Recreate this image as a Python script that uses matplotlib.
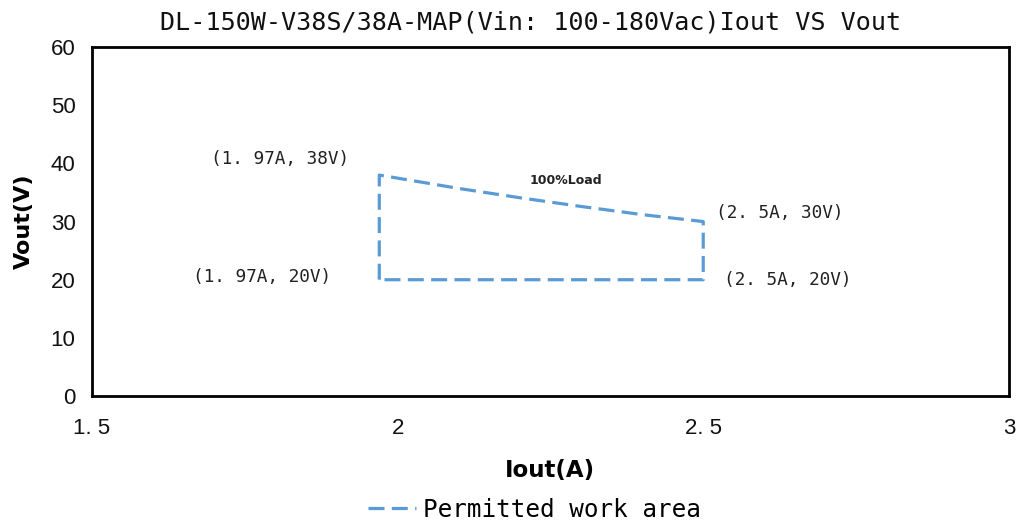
import matplotlib
matplotlib.use("Agg")
import matplotlib.pyplot as plt

plt.rcParams['font.family'] = ['Liberation Sans', 'DejaVu Sans']

# Boundary of permitted work area (Iout in A, Vout in V)
iout = [1.97, 1.97, 2.10, 2.20, 2.30, 2.40, 2.50, 2.50, 1.97]
vout = [20.0, 38.0, 35.7, 34.1, 32.6, 31.2, 30.0, 20.0, 20.0]

x_ticks = [1.5, 2, 2.5, 3]
x_tick_labels = ["1. 5", "2", "2. 5", "3"]
y_ticks = [0, 10, 20, 30, 40, 50, 60]

point_labels = ["(1. 97A, 38V)", "(1. 97A, 20V)", "(2. 5A, 30V)", "(2. 5A, 20V)"]
point_xy = [(1.97, 38), (1.97, 20), (2.5, 30), (2.5, 20)]

MONO = ["DejaVu Sans Mono"]

fig = plt.figure(figsize=(10.18, 5.24), dpi=100)
ax = fig.add_axes([0.0904, 0.2443, 0.9006, 0.6657])

line, = ax.plot(iout, vout, linestyle=(0, (5, 2.3)), color="#5B9BD5", linewidth=2.3,
                label="Permitted work area")

ax.set_xlim(1.5, 3)
ax.set_ylim(0, 60)
ax.set_xticks(x_ticks)
ax.set_xticklabels(x_tick_labels)
ax.set_yticks(y_ticks)
ax.tick_params(axis="y", length=0, labelsize=16, pad=12, labelcolor="#111111")
ax.tick_params(axis="x", length=0, labelsize=16, pad=16, labelcolor="#111111")
for s in ax.spines.values():
    s.set_linewidth(2)
    s.set_color("black")

# point annotations
offsets = [(-0.163, 2.7), (-0.191, 0.45), (0.125, 1.4), (0.138, -0.1)]
for (px, py), txt, (dx, dy) in zip(point_xy, point_labels, offsets):
    ax.text(px + dx, py + dy, txt, ha="center", va="center", fontsize=12.8,
            family=MONO, color="#222222")

ax.text(2.275, 37.1, "100%Load", ha="center", va="center", fontsize=9, fontweight="bold",
        family=["DejaVu Sans"], color="#222222")

fig.text(0.521, 0.957, "DL-150W-V38S/38A-MAP(Vin: 100-180Vac)Iout VS Vout", ha="center",
         va="center", fontsize=18.1, family=MONO, color="#111111")

ax.set_xlabel("Iout(A)", fontsize=16.5, fontweight="bold", family=["DejaVu Sans"], labelpad=14)
ax.set_ylabel("Vout(V)", fontsize=16, fontweight="bold", family=["DejaVu Sans"], labelpad=12)

fig.legend(handles=[line], loc="center", bbox_to_anchor=(0.525, 0.027), frameon=False,
           prop={"family": MONO, "size": 17.5}, handlelength=2.0, handletextpad=0.3)

fig.savefig("out.png", dpi=100)
